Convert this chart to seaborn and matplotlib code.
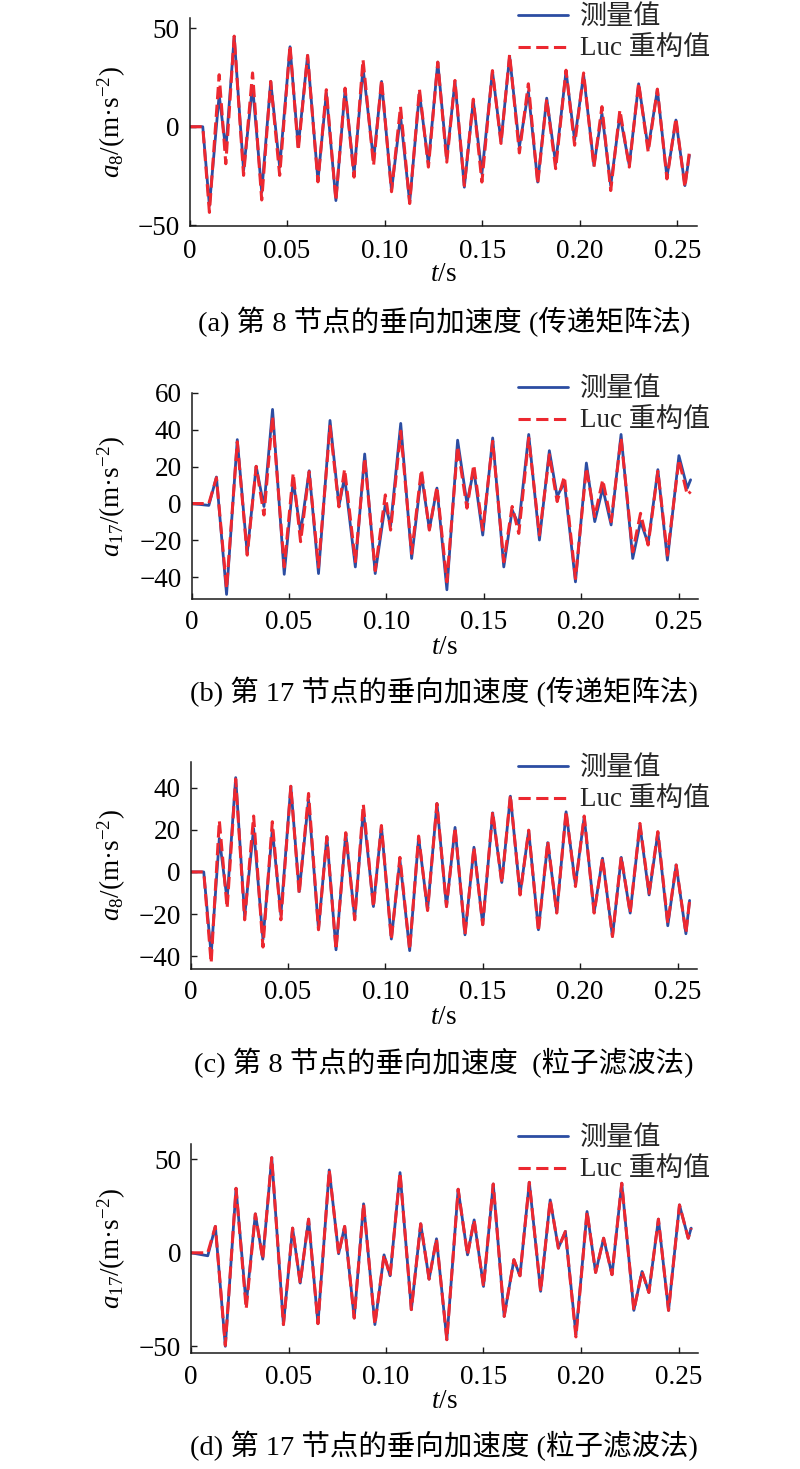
import matplotlib
matplotlib.use('Agg')
import matplotlib.pyplot as plt
import pandas as pd
import seaborn as sns

# ---------------- data (extrema) ----------------
a_t = [0, 0.0068, 0.0102, 0.0152, 0.0186, 0.0229, 0.0277, 0.0323, 0.0370, 0.0416,
       0.0462, 0.0515, 0.0557, 0.0605, 0.0658, 0.0701, 0.0750, 0.0797, 0.0843, 0.0889,
       0.0943, 0.0984, 0.1035, 0.1081, 0.1128, 0.1178, 0.1224, 0.1272, 0.1318, 0.1360,
       0.1408, 0.1454, 0.1498, 0.1552, 0.1596, 0.1640, 0.1690, 0.1736, 0.1784, 0.1830,
       0.1876, 0.1929, 0.1973, 0.2019, 0.2072, 0.2113, 0.2158, 0.2205, 0.2253, 0.2301,
       0.2350, 0.2397, 0.2446, 0.2492, 0.2538, 0.2561]
a_meas = [0, 0, -40.1, 16.2, -11.9, 45.7, -22.2, 20.8, -33.3, 23.0,
          -20.5, 40.6, -10.2, 36.2, -27.3, 17.1, -37.5, 18.8, -23.9, 29.9,
          -17.1, 23.0, -32.4, 5.5, -38.4, 17.1, -18.8, 32.8, -16.2, 23.0,
          -30.7, 13.3, -23.9, 28.2, -7.7, 35.8, -10.2, 17.9, -28.1, 14.5,
          -18.8, 28.2, -6.8, 26.4, -19.6, 6.8, -29.9, 6.0, -19.6, 21.8,
          -11.1, 18.8, -25.6, 3.4, -29.9, -14.5]
a_luc = [0, 0, -43.5, 26.4, -18.8, 46.0, -24.7, 27.3, -37.2, 23.0,
         -24.7, 41.3, -12.0, 36.2, -28.0, 18.8, -37.5, 19.6, -25.6, 34.1,
         -19.6, 23.9, -33.0, 10.2, -39.0, 19.1, -20.5, 32.8, -18.0, 23.5,
         -29.9, 14.0, -28.1, 28.5, -8.5, 36.7, -13.3, 21.8, -29.0, 14.0,
         -21.3, 28.7, -9.4, 27.3, -20.5, 10.2, -32.4, 8.5, -20.5, 22.2,
         -12.8, 19.1, -26.5, 4.3, -30.7, -12.8]

b_t = [0, 0.0089, 0.0128, 0.0180, 0.0235, 0.0286, 0.0332, 0.0372, 0.0416, 0.0476,
       0.0522, 0.0560, 0.0604, 0.0652, 0.0711, 0.0757, 0.0786, 0.0841, 0.0889, 0.0943,
       0.0995, 0.1022, 0.1074, 0.1130, 0.1180, 0.1221, 0.1260, 0.1311, 0.1366, 0.1414,
       0.1449, 0.1495, 0.1546, 0.1603, 0.1646, 0.1680, 0.1731, 0.1786, 0.1837, 0.1877,
       0.1914, 0.1971, 0.2027, 0.2070, 0.2111, 0.2154, 0.2205, 0.2265, 0.2305, 0.2344,
       0.2394, 0.2443, 0.2502, 0.2545, 0.2562]
b_meas = [0, -1.0, 14.4, -49.3, 34.7, -27.1, 20.2, -1.6, 51.1, -38.4,
          12.5, -15.6, 17.8, -38.0, 45.1, -1.3, 14.4, -34.4, 26.9, -38.0,
          -0.2, -12.2, 43.5, -29.8, 16.0, -14.0, 8.4, -46.8, 34.4, 0.2,
          18.4, -17.1, 35.6, -34.4, -3.5, -11.6, 37.5, -19.8, 28.7, 3.8,
          11.5, -42.5, 22.0, -9.8, 8.4, -11.6, 37.5, -29.8, -9.8, -21.6,
          18.4, -30.7, 26.0, 8.4, 12.9]
b_luc = [0, 0, 14.0, -46.2, 33.5, -28.0, 20.2, -6.2, 47.4, -34.4,
         16.5, -20.7, 17.3, -34.5, 42.0, -1.8, 18.7, -31.5, 24.7, -36.4,
         4.7, -14.4, 39.3, -27.1, 18.4, -14.4, 9.1, -42.5, 31.0, -2.5,
         21.0, -14.4, 33.8, -31.6, -1.6, -16.2, 35.6, -17.1, 26.5, 1.1,
         14.7, -40.7, 19.3, -7.1, 12.9, -9.8, 35.6, -26.2, -5.3, -22.5,
         17.5, -28.0, 23.8, 4.7, 6.5]

c_t = [0, 0.0068, 0.0106, 0.0148, 0.0188, 0.0232, 0.0278, 0.0324, 0.0372, 0.0420,
       0.0464, 0.0515, 0.0558, 0.0606, 0.0657, 0.0700, 0.0747, 0.0797, 0.0843, 0.0887,
       0.0939, 0.0980, 0.1031, 0.1075, 0.1125, 0.1171, 0.1217, 0.1265, 0.1314, 0.1358,
       0.1409, 0.1455, 0.1500, 0.1551, 0.1598, 0.1642, 0.1692, 0.1736, 0.1786, 0.1834,
       0.1880, 0.1928, 0.1976, 0.2021, 0.2072, 0.2115, 0.2166, 0.2211, 0.2257, 0.2307,
       0.2354, 0.2399, 0.2450, 0.2493, 0.2543, 0.2562]
c_meas = [0, 0, -39.2, 15.9, -13.2, 44.7, -21.1, 20.6, -32.1, 20.2,
          -20.3, 40.6, -9.3, 34.3, -27.1, 16.7, -36.9, 18.3, -21.9, 29.3,
          -16.4, 21.7, -31.8, 5.7, -37.3, 16.4, -18.0, 32.4, -16.4, 21.1,
          -29.8, 11.7, -25.0, 28.0, -5.0, 35.9, -10.4, 19.5, -27.4, 13.9,
          -19.2, 28.5, -6.1, 26.1, -19.2, 6.5, -30.6, 6.9, -19.5, 22.2,
          -10.9, 18.6, -25.5, 3.3, -29.3, -13.5]
c_luc = [0, 0, -43.2, 24.3, -17.2, 44.0, -22.7, 26.5, -35.6, 23.8,
         -22.7, 40.6, -10.4, 37.2, -27.4, 16.7, -36.9, 18.6, -22.7, 32.1,
         -16.7, 22.0, -32.1, 6.9, -36.9, 17.0, -18.3, 32.4, -16.4, 21.1,
         -29.8, 11.7, -25.0, 28.5, -5.3, 36.4, -10.9, 19.8, -28.2, 14.5,
         -19.5, 28.8, -6.9, 26.5, -19.5, 6.5, -30.6, 7.2, -19.5, 23.0,
         -10.1, 19.1, -24.3, 3.3, -29.0, -13.5]

d_t = [0, 0.0086, 0.0125, 0.0176, 0.0231, 0.0283, 0.0330, 0.0368, 0.0414, 0.0474,
       0.0521, 0.0560, 0.0603, 0.0651, 0.0709, 0.0757, 0.0788, 0.0837, 0.0885, 0.0943,
       0.0990, 0.1021, 0.1072, 0.1130, 0.1178, 0.1221, 0.1259, 0.1312, 0.1370, 0.1418,
       0.1452, 0.1500, 0.1550, 0.1606, 0.1656, 0.1687, 0.1735, 0.1793, 0.1842, 0.1884,
       0.1920, 0.1974, 0.2031, 0.2075, 0.2116, 0.2159, 0.2209, 0.2271, 0.2313, 0.2348,
       0.2397, 0.2449, 0.2505, 0.2550, 0.2565]
d_meas = [0, -1.6, 14.1, -50.0, 34.5, -27.8, 20.8, -3.4, 50.9, -38.4,
          13.2, -16.2, 18.0, -37.9, 44.3, -0.5, 14.1, -34.9, 26.2, -38.4,
          -1.1, -12.3, 42.9, -30.4, 15.5, -14.1, 7.5, -46.5, 34.0, -1.1,
          17.6, -18.0, 36.8, -34.0, -3.7, -12.3, 37.7, -20.6, 28.3, 2.5,
          11.4, -43.8, 22.1, -10.5, 7.8, -11.7, 37.2, -30.8, -10.0, -21.2,
          18.0, -30.8, 25.6, 7.8, 13.2]
d_luc = [0, 0, 14.1, -49.5, 34.5, -30.0, 20.8, -3.4, 50.9, -38.4,
         13.2, -16.2, 18.0, -37.9, 44.3, -0.5, 14.1, -34.9, 26.2, -38.4,
         -1.1, -12.3, 42.9, -30.4, 15.5, -14.1, 7.5, -46.5, 34.0, -1.1,
         17.6, -18.0, 36.8, -34.0, -3.7, -12.3, 37.7, -20.6, 28.3, 2.5,
         11.4, -45.0, 22.1, -10.5, 7.8, -11.7, 37.2, -30.8, -10.0, -21.2,
         18.0, -30.8, 25.6, 7.8, 13.2]

x_ticks = [0, 0.05, 0.10, 0.15, 0.20, 0.25]
x_ticklabels = ['0', '0.05', '0.10', '0.15', '0.20', '0.25']
series_names = ['测量值', 'Luc 重构值']
captions = ['(a) 第 8 节点的垂向加速度 (传递矩阵法)',
            '(b) 第 17 节点的垂向加速度 (传递矩阵法)',
            '(c) 第 8 节点的垂向加速度  (粒子滤波法)',
            '(d) 第 17 节点的垂向加速度 (粒子滤波法)']
ylabels = [r'$a_{8}$/(m·s$^{-2}$)', r'$a_{17}$/(m·s$^{-2}$)',
           r'$a_{8}$/(m·s$^{-2}$)', r'$a_{17}$/(m·s$^{-2}$)']
y_ticks = [[-50, 0, 50], [-40, -20, 0, 20, 40, 60],
           [-40, -20, 0, 20, 40], [-50, 0, 50]]

# ---------------- style ----------------
sns.set_theme(style='ticks')
plt.rcParams['font.family'] = ['Liberation Serif', 'Noto Sans CJK SC']
plt.rcParams['mathtext.fontset'] = 'custom'
plt.rcParams['mathtext.rm'] = 'Liberation Serif'
plt.rcParams['mathtext.it'] = 'Liberation Serif:italic'
plt.rcParams['axes.unicode_minus'] = True

BLUE = '#2C4DA2'
RED = '#EC2830'
INK = '#1a1a1a'
FS = 19.5
CAP_FS = 20.5

W, H = 800, 1469
fig = plt.figure(figsize=(W / 100, H / 100), dpi=100)

# pixel layout of each panel
layout = [
    dict(box=(189.5, 697, 18, 226), ylim=(-50.4, 55.2), leg=5, cap=322, xpad=9.5),
    dict(box=(191.5, 698, 393, 599), ylim=(-51.8, 60.0), leg=377, cap=692, xpad=8),
    dict(box=(190.5, 697, 762, 969), ylim=(-46.0, 52.1), leg=756, cap=1063, xpad=8),
    dict(box=(191.0, 698, 1144, 1353), ylim=(-53.6, 58.2), leg=1126, cap=1446, xpad=8.5),
]
data = [(a_t, a_meas, a_luc), (b_t, b_meas, b_luc),
        (c_t, c_meas, c_luc), (d_t, d_meas, d_luc)]

for i, (lay, (t, meas, luc)) in enumerate(zip(layout, data)):
    left, right, top, bottom = lay['box']
    ax = fig.add_axes([left / W, 1 - bottom / H, (right - left) / W, (bottom - top) / H])
    df = pd.DataFrame({'t': t, 'meas': meas, 'luc': luc})
    sns.lineplot(data=df, x='t', y='meas', ax=ax, color=BLUE, linewidth=2.0,
                 label=series_names[0], sort=False, estimator=None,
                 solid_joinstyle='round', solid_capstyle='round')
    sns.lineplot(data=df, x='t', y='luc', ax=ax, color=RED, linewidth=2.2,
                 linestyle=(0, (4.0, 1.8)), label=series_names[1],
                 sort=False, estimator=None, dash_joinstyle='round',
                 dash_capstyle='butt')
    ax.set_xlim(0, 0.26)
    ax.set_ylim(*lay['ylim'])
    ax.set_xticks(x_ticks)
    ax.set_xticklabels(x_ticklabels)
    ax.set_yticks(y_ticks[i])
    sns.despine(ax=ax)
    for s in ('left', 'bottom'):
        ax.spines[s].set_linewidth(1.1)
        ax.spines[s].set_color(INK)
    ax.tick_params(direction='in', length=4, width=1, labelsize=FS,
                   colors=INK, labelcolor='black')
    ax.tick_params(axis='x', pad=lay['xpad'])
    ax.tick_params(axis='y', pad=7)
    ax.set_xlabel(r'$t$/s', fontsize=FS, color='black')
    ax.set_ylabel(ylabels[i], fontsize=FS, color='black')
    ax.xaxis.set_label_coords(0.5, -(36) / (bottom - top))
    ax.yaxis.set_label_coords((128 - left) / (right - left), 0.5)
    ax.legend(loc='upper left', bbox_to_anchor=(518 / W, 1 - lay['leg'] / H),
              bbox_transform=fig.transFigure, frameon=False, borderpad=0,
              borderaxespad=0, handlelength=1.85, handletextpad=0.44,
              labelspacing=0.27, fontsize=FS)
    fig.text(444 / W, 1 - lay['cap'] / H, captions[i], ha='center', va='center',
             fontsize=CAP_FS, color='black')

fig.savefig('out.png', dpi=100)
